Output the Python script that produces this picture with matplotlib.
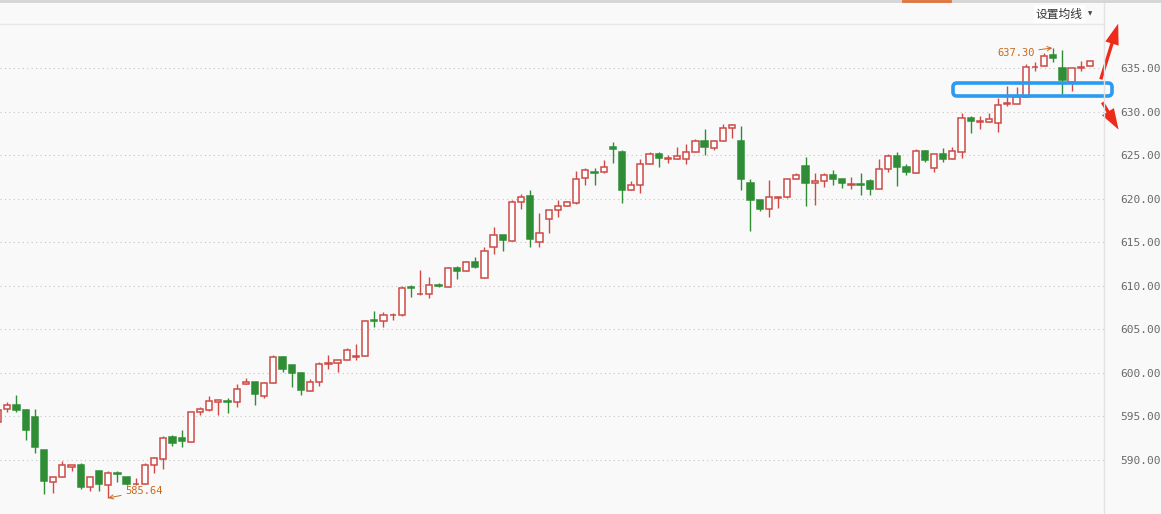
import numpy as np
import matplotlib
matplotlib.use('Agg')
import matplotlib.pyplot as plt
from matplotlib.lines import Line2D
from matplotlib.patches import FancyBboxPatch, FancyArrowPatch
from matplotlib.transforms import IdentityTransform

# daily candles (first one is cut by the left edge)
opens = [594.4, 595.8, 596.3, 595.7, 594.9, 591.2, 587.5, 588.0, 589.2, 589.4,
         586.9, 588.7, 587.1, 588.5, 588.0, 587.2, 587.2, 589.4, 590.1, 592.6,
         592.5, 592.1, 595.5, 595.7, 596.7, 596.8, 596.6, 598.7, 598.9, 597.3,
         598.8, 601.8, 600.9, 600.0, 597.9, 598.9, 601.0, 601.1, 601.5, 601.8,
         601.9, 606.1, 606.0, 606.6, 606.6, 609.9, 609.0, 609.1, 610.1, 609.9,
         612.0, 611.7, 612.7, 610.9, 614.4, 615.8, 615.1, 619.6, 620.3, 615.0,
         617.7, 618.7, 619.1, 619.5, 622.4, 623.1, 623.1, 625.9, 625.3, 621.0,
         621.6, 624.0, 625.1, 624.6, 624.6, 624.6, 625.4, 626.6, 625.8, 626.6,
         628.1, 626.6, 621.8, 619.9, 618.8, 620.1, 620.2, 622.3, 623.8, 621.8,
         622.0, 622.7, 622.2, 621.6, 621.7, 622.0, 621.1, 623.4, 624.9, 623.6,
         623.0, 625.5, 623.5, 625.1, 624.5, 625.4, 629.3, 628.8, 628.8, 628.7,
         630.9, 630.9, 631.7, 635.1, 635.2, 636.5, 635.0, 633.4, 635.0, 635.2]
highs = [595.8, 596.6, 597.5, 595.8, 595.9, 591.2, 588.0, 589.9, 589.4, 589.6,
         588.0, 588.7, 588.7, 588.7, 588.0, 587.9, 589.6, 590.4, 592.7, 592.9,
         593.4, 595.5, 596.1, 597.3, 596.9, 597.1, 598.7, 599.4, 598.9, 599.0,
         602.1, 601.9, 600.9, 600.1, 599.3, 601.2, 602.0, 601.5, 602.8, 603.3,
         606.1, 607.1, 607.0, 606.9, 610.0, 610.1, 611.8, 611.0, 610.3, 612.2,
         612.3, 612.9, 613.3, 614.4, 616.7, 615.8, 619.8, 620.5, 621.0, 618.4,
         618.7, 619.8, 619.7, 623.2, 623.5, 623.5, 624.4, 626.5, 625.6, 622.0,
         624.6, 625.4, 625.4, 625.0, 625.9, 626.3, 626.8, 628.0, 626.7, 628.6,
         628.6, 628.3, 622.2, 619.9, 622.1, 620.2, 622.3, 623.0, 624.8, 623.0,
         623.0, 623.3, 622.2, 622.5, 622.9, 622.3, 624.5, 625.1, 625.3, 624.0,
         625.7, 625.6, 625.1, 625.8, 625.9, 629.8, 629.5, 629.5, 629.8, 631.5,
         632.9, 632.8, 635.5, 635.7, 636.7, 637.3, 637.1, 635.0, 635.8, 635.8]
lows = [594.3, 595.5, 595.5, 592.3, 590.8, 586.1, 586.2, 588.0, 588.7, 586.7,
        586.4, 586.4, 585.64, 587.5, 587.1, 587.1, 587.2, 588.5, 589.0, 591.6,
        591.5, 592.1, 595.2, 595.6, 595.2, 595.4, 596.1, 598.7, 596.3, 597.1,
        598.8, 600.1, 598.4, 597.5, 597.9, 598.5, 600.4, 600.1, 601.5, 601.5,
        601.9, 605.3, 605.3, 606.1, 606.5, 608.7, 608.9, 608.6, 609.9, 609.9,
        610.8, 611.7, 612.0, 610.9, 613.7, 614.0, 615.1, 618.8, 614.5, 614.5,
        616.1, 617.9, 619.1, 619.4, 621.6, 621.6, 623.0, 624.1, 619.5, 621.0,
        620.7, 624.0, 623.6, 624.1, 624.6, 624.0, 625.4, 625.0, 625.6, 626.6,
        627.0, 621.0, 616.3, 618.6, 617.9, 618.9, 620.1, 622.3, 619.2, 619.3,
        621.3, 621.6, 621.2, 621.1, 620.4, 620.4, 621.1, 623.1, 621.4, 622.7,
        623.0, 624.2, 623.1, 624.2, 624.5, 624.7, 627.5, 628.0, 628.8, 627.6,
        630.6, 630.9, 631.7, 634.7, 635.2, 635.7, 632.0, 632.4, 634.7, 635.2]
closes = [595.7, 596.3, 595.7, 593.4, 591.5, 587.6, 588.0, 589.4, 589.4, 586.9,
          588.0, 587.2, 588.5, 588.4, 587.2, 587.3, 589.4, 590.2, 592.5, 592.0,
          592.2, 595.5, 595.8, 596.8, 596.9, 596.7, 598.2, 598.9, 597.6, 598.8,
          601.8, 600.5, 600.0, 598.0, 598.9, 601.0, 601.1, 601.5, 602.6, 601.9,
          606.0, 606.0, 606.7, 606.7, 609.8, 609.8, 609.1, 610.1, 610.0, 612.0,
          611.7, 612.7, 612.2, 614.0, 615.8, 615.2, 619.6, 620.2, 615.4, 616.1,
          618.7, 619.1, 619.6, 622.3, 623.3, 623.0, 623.6, 625.7, 621.0, 621.6,
          624.0, 625.1, 624.7, 624.7, 624.9, 625.4, 626.6, 625.9, 626.6, 628.1,
          628.5, 622.3, 619.9, 618.8, 620.2, 620.2, 622.3, 622.7, 621.8, 622.0,
          622.7, 622.3, 621.8, 621.7, 621.6, 621.1, 623.4, 624.9, 623.6, 623.1,
          625.5, 624.4, 625.1, 624.6, 625.5, 629.3, 628.9, 628.9, 629.2, 630.8,
          631.0, 631.7, 635.1, 635.15, 636.4, 636.2, 633.6, 635.0, 635.1, 635.8]
yticks = [590, 595, 600, 605, 610, 615, 620, 625, 630, 635]
low_label = 585.64
high_label = 637.30

RED = '#cf4a46'
GREEN = '#2f8d36'
BG = '#f9f9f9'

W, H = 1161, 514
fig = plt.figure(figsize=(W / 100, H / 100), dpi=100, facecolor=BG)
ax = fig.add_axes([0, 0, 1104 / W, 490 / H], facecolor=BG)

x = np.arange(-1, len(opens) - 1)
o = np.array(opens)
c = np.array(closes)
up = c >= o

for xi, oi, hi, li, ci, u in zip(x, opens, highs, lows, closes, up):
    col = RED if u else GREEN
    ax.vlines(xi, li, hi, color=col, lw=1, zorder=2)
    bot = min(oi, ci)
    hgt = max(abs(ci - oi), 0.05)
    ax.bar(xi, hgt, bottom=bot, width=0.68,
           facecolor='white' if u else GREEN, edgecolor=col, lw=1.1, zorder=3)

ax.set_xlim(-7.3 / 9.175, (1104 - 7.3) / 9.175)
ax.set_ylim(583.8, 640.05)

ax.yaxis.tick_right()
ax.set_yticks(yticks)
ax.set_yticklabels(['%.2f' % t for t in yticks], family='DejaVu Sans Mono')
ax.tick_params(axis='y', length=0, pad=11.5, labelsize=8, labelcolor='#6a6a6a')
ax.set_xticks([])
ax.grid(axis='y', color='#c4c4c4', linestyle=(0, (1, 3)), lw=0.8)
ax.set_axisbelow(True)
for s in ax.spines.values():
    s.set_visible(False)

# low / high markers
ORANGE = '#c8691e'
ax.annotate('%.2f' % low_label, xy=(11, low_label), xytext=(12.85, 586.45),
            color=ORANGE, fontsize=7.5, family='DejaVu Sans Mono', va='center',
            arrowprops=dict(arrowstyle='->', color=ORANGE, lw=0.7,
                            shrinkA=1, shrinkB=0))
ax.annotate('%.2f' % high_label, xy=(113.9, high_label), xytext=(107.9, 636.75),
            color=ORANGE, fontsize=7.5, family='DejaVu Sans Mono', va='center',
            arrowprops=dict(arrowstyle='->', color=ORANGE, lw=0.7,
                            shrinkA=1, shrinkB=0))

# frame lines around the chart area
fig.add_artist(Line2D([0, 1], [1 - 1 / H] * 2, color='#d4d4d4', lw=2))
fig.add_artist(Line2D([903 / W, 950 / W], [1 - 1 / H] * 2, color='#e0733a', lw=2))
fig.add_artist(Line2D([0, 1104 / W], [1 - 24 / H] * 2, color='#e8e8e8', lw=1))
fig.add_artist(Line2D([1104 / W] * 2, [0, 1 - 3 / H], color='#e2e2e2', lw=1))

fig.text(1036 / W, 1 - 14 / H, '设置均线', family=['Noto Sans CJK SC', 'DejaVu Sans'],
         fontsize=8.5, color='#333333', va='center', ha='left',
         bbox=dict(facecolor='white', edgecolor='none', pad=1.5))
fig.text(1090 / W, 1 - 14 / H, '▼', fontsize=4, color='#444444', va='center', ha='center')

# hand-drawn highlight box and arrows
box = FancyBboxPatch((953, H - 96), 159, 13, boxstyle='round,pad=0,rounding_size=4',
                     transform=IdentityTransform(), fill=False, ec='#2a9bf0', lw=2.6)
fig.add_artist(box)
for tail, head in [((1100, H - 82), (1119, H - 21)), ((1101, H - 100), (1120, H - 132))]:
    arr = FancyArrowPatch(tail, head, transform=IdentityTransform(),
                          arrowstyle='simple,head_width=10,head_length=15,tail_width=2.4',
                          mutation_scale=1, color='#ee2a1a', lw=0)
    fig.add_artist(arr)

fig.savefig('out.png', dpi=100, facecolor=BG)
